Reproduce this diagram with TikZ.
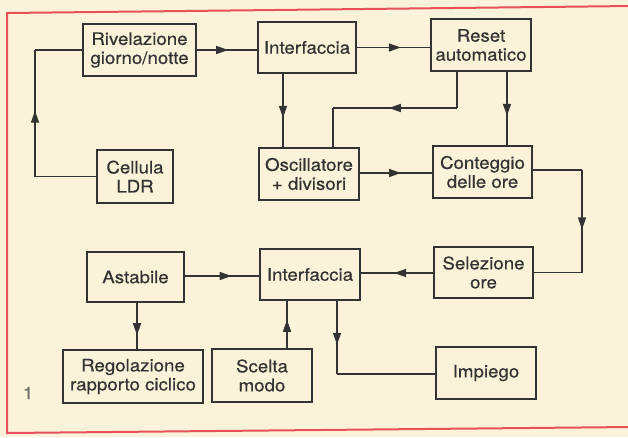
\documentclass[tikz,border=0pt]{standalone}
\usepackage{fontspec}
\setmainfont{TeX Gyre Heros}[FakeStretch=1.08,FakeBold=0.5]
\usetikzlibrary{arrows.meta,decorations.markings}
\definecolor{paper}{HTML}{FAF3D9}
\definecolor{ink}{HTML}{333333}
\definecolor{frame}{HTML}{E8505A}
\tikzset{
  blk/.style={draw=ink, line width=1.8pt, text=ink, align=center, inner sep=0pt,
    font=\fontsize{17.3}{19}\selectfont},
  wire/.style={draw=ink, line width=1.4pt},
  midarr/.style={postaction={decorate,decoration={markings,
    mark=at position #1 with {\arrow{Triangle[length=12pt,width=8pt]}}}}}
}
\begin{document}
\begin{tikzpicture}[x=1pt,y=-1pt]
\fill[paper] (0,0) rectangle (628,437);
\useasboundingbox (0,0) rectangle (628,437);
\draw[frame, line width=2pt] (632,6) -- (7,13) -- (7,433) -- (632,427);
% blocks
\node[blk, minimum width=113pt, minimum height=52pt] (riv) at (139.5,50) {Rivelazione\\giorno/notte};
\node[blk, minimum width=98pt, minimum height=51pt] (int1) at (307,47.5) {Interfaccia};
\node[blk, minimum width=100pt, minimum height=52pt] (reset) at (481,45) {Reset\\automatico};
\node[blk, minimum width=76pt, minimum height=53pt] (ldr) at (135,176.5) {Cellula\\LDR};
\node[blk, minimum width=100pt, minimum height=52pt] (osc) at (309,174) {Oscillatore\\+ divisori};
\node[blk, minimum width=99pt, minimum height=52pt] (cont) at (482.5,172) {Conteggio\\delle ore};
\node[blk, minimum width=97pt, minimum height=50pt] (ast) at (135.5,277) {Astabile};
\node[blk, minimum width=100pt, minimum height=51pt] (int2) at (310,274.5) {Interfaccia};
\node[blk, minimum width=99pt, minimum height=51pt] (sel) at (483.5,272.5) {Selezione\\ore};
\node[blk, minimum width=140pt, minimum height=53pt] (reg) at (133,376.5) {Regolazione\\rapporto ciclico};
\node[blk, minimum width=100pt, minimum height=53pt] (sce) at (262,375.5) {Scelta\\modo};
\node[blk, minimum width=100pt, minimum height=52pt] (imp) at (486,373) {Impiego};
\node[text=ink!70, font=\fontsize{17}{19}\selectfont] (fig) at (28,393) {1};
% waypoints
\coordinate (a1) at (35,176.5);
\coordinate (a2) at (35,50);
\coordinate (r1) at (457,108);
\coordinate (r2) at (333,108);
\coordinate (c1) at (582,170);
\coordinate (c2) at (582,272.5);
\coordinate (i1) at (337,374);
% connectors
\draw[wire] (ldr.west) -- (a1);
\draw[wire, midarr=0.52] (a1) -- (a2);
\draw[wire] (a2) -- (riv.west);
\draw[wire, midarr=0.52] (riv.east) -- (riv.east -| int1.west);
\draw[wire, midarr=0.6] (int1.east) -- (int1.east -| reset.west);
\draw[wire, midarr=0.6] (int1.south -| 283,0) -- (osc.north -| 283,0);
\draw[wire, midarr=0.6] (reset.south -| 507,0) -- (cont.north -| 507,0);
\draw[wire] (reset.south -| r1) -- (r1);
\draw[wire, midarr=0.55] (r1) -- (r2);
\draw[wire] (r2) -- (osc.north -| r2);
\draw[wire, midarr=0.57] (osc.east |- 0,173) -- (cont.west |- 0,173);
\draw[wire] (cont.east |- c1) -- (c1);
\draw[wire, midarr=0.58] (c1) -- (c2);
\draw[wire] (c2) -- (sel.east);
\draw[wire, midarr=0.54] (sel.west |- 0,273) -- (int2.east |- 0,273);
\draw[wire, midarr=0.63] (ast.east |- 0,276) -- (int2.west |- 0,276);
\draw[wire, midarr=0.7] (ast.south -| 137,0) -- (reg.north -| 137,0);
\draw[wire, midarr=0.6] (sce.north -| 287,0) -- (int2.south -| 287,0);
\draw[wire, midarr=0.6] (int2.south -| i1) -- (i1);
\draw[wire] (i1) -- (imp.west |- i1);
\end{tikzpicture}
\end{document}
